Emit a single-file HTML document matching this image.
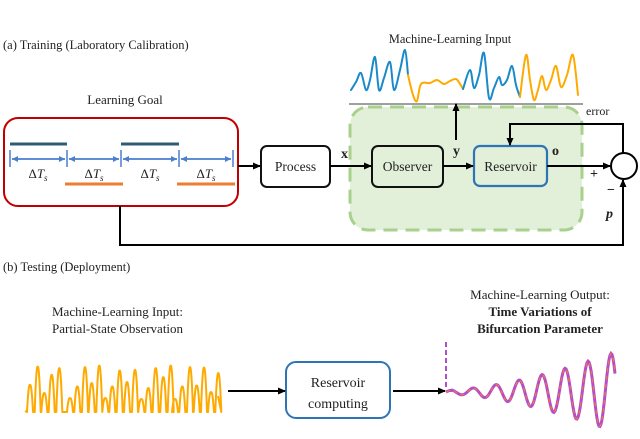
<!DOCTYPE html>
<html><head><meta charset="utf-8"><style>
html,body{margin:0;padding:0;background:#fff}
svg{display:block}
text{font-family:"Liberation Serif",serif;fill:#222}
</style></head><body>
<svg id="s" width="640" height="439" viewBox="0 0 640 439" xmlns="http://www.w3.org/2000/svg">
<defs>
<marker id="a" markerWidth="8" markerHeight="8" refX="7" refY="4" orient="auto" markerUnits="userSpaceOnUse"><path d="M0,0.5 L8,4 L0,7.5 z" fill="#000"/></marker>
<marker id="b" markerWidth="6" markerHeight="6" refX="6" refY="3" orient="auto" markerUnits="userSpaceOnUse"><path d="M0,0 L6,3 L0,6 z" fill="#4a7fd0"/></marker>
</defs>
<text x="3" y="49" font-size="12.5">(a) Training (Laboratory Calibration)</text>
<text x="125" y="104" font-size="13" text-anchor="middle">Learning Goal</text>
<rect x="4" y="118" width="234" height="88" rx="14" fill="none" stroke="#c00000" stroke-width="2"/>
<g stroke="#2e5d73" stroke-width="3"><line x1="10" y1="144" x2="67" y2="144"/><line x1="121" y1="144" x2="179" y2="144"/></g>
<g stroke="#ed7d31" stroke-width="3"><line x1="65" y1="184" x2="123" y2="184"/><line x1="177" y1="184" x2="235" y2="184"/></g>
<g stroke="#4a7fd0" stroke-width="1.5">
<line x1="10" y1="150" x2="10" y2="167"/><line x1="67" y1="150" x2="67" y2="167"/><line x1="121" y1="150" x2="121" y2="167"/><line x1="179" y1="150" x2="179" y2="167"/><line x1="233" y1="150" x2="233" y2="167"/>
<line x1="12" y1="159" x2="65" y2="159" marker-end="url(#b)"/><line x1="65" y1="159" x2="12" y2="159" marker-end="url(#b)"/>
<line x1="69" y1="159" x2="119" y2="159" marker-end="url(#b)"/><line x1="119" y1="159" x2="69" y2="159" marker-end="url(#b)"/>
<line x1="123" y1="159" x2="177" y2="159" marker-end="url(#b)"/><line x1="177" y1="159" x2="123" y2="159" marker-end="url(#b)"/>
<line x1="181" y1="159" x2="231" y2="159" marker-end="url(#b)"/><line x1="231" y1="159" x2="181" y2="159" marker-end="url(#b)"/>
</g>
<g font-size="13" text-anchor="middle"><text x="38" y="178">Δ<tspan font-style="italic">T<tspan font-size="9" dy="3">s</tspan></tspan></text><text x="94" y="178">Δ<tspan font-style="italic">T<tspan font-size="9" dy="3">s</tspan></tspan></text><text x="150" y="178">Δ<tspan font-style="italic">T<tspan font-size="9" dy="3">s</tspan></tspan></text><text x="206" y="178">Δ<tspan font-style="italic">T<tspan font-size="9" dy="3">s</tspan></tspan></text></g>
<rect x="350" y="107" width="232" height="123" rx="18" fill="#e2efd9" stroke="#a9d18e" stroke-width="3" stroke-dasharray="14,8"/>
<text x="450" y="43" font-size="12.5" text-anchor="middle">Machine-Learning Input</text>
<g fill="none" stroke-width="2" stroke-linejoin="round" stroke-linecap="round">
<path id="w1" stroke="#1a8ac8"/><path id="w2" stroke="#ffaa00"/><path id="w3" stroke="#1a8ac8"/><path id="w4" stroke="#ffaa00"/>
</g>
<line x1="349" y1="104" x2="583" y2="104" stroke="#666" stroke-width="1.2"/>
<text x="586" y="115" font-size="12">error</text>
<rect x="261" y="146" width="69" height="41" rx="6" fill="#fff" stroke="#111" stroke-width="2"/>
<text x="295.5" y="171" font-size="13.5" text-anchor="middle">Process</text>
<rect x="372" y="146" width="71" height="41" rx="6" fill="none" stroke="#111" stroke-width="2"/>
<text x="407.5" y="171" font-size="13.5" text-anchor="middle">Observer</text>
<rect x="474" y="146" width="73" height="40" rx="6" fill="none" stroke="#2e75b6" stroke-width="2.2"/>
<text x="510.5" y="171" font-size="13.5" text-anchor="middle">Reservoir</text>
<g stroke="#000" stroke-width="2" fill="none">
<line x1="238" y1="166" x2="260" y2="166" marker-end="url(#a)"/>
<line x1="330" y1="166" x2="371" y2="166" marker-end="url(#a)"/>
<line x1="443" y1="166" x2="473" y2="166" marker-end="url(#a)"/>
<line x1="456" y1="140" x2="456" y2="104" marker-end="url(#a)"/>
<line x1="547" y1="166" x2="610" y2="166" marker-end="url(#a)"/>
<polyline points="623,153 623,124 510,124 510,145" marker-end="url(#a)"/>
<polyline points="120,206 120,245 623,245 623,180" marker-end="url(#a)"/>
<circle cx="624" cy="166" r="13" fill="#fff"/>
</g>
<g font-weight="bold" font-size="14"><text x="341" y="158">x</text><text x="453" y="155">y</text><text x="552" y="155">o</text><text x="590" y="178">+</text><text x="607" y="194">−</text><text x="606" y="218" font-style="italic">p</text></g>
<text x="3" y="271" font-size="12.5">(b) Testing (Deployment)</text>
<text x="52" y="316" font-size="13">Machine-Learning Input:</text>
<text x="52" y="333" font-size="13">Partial-State Observation</text>
<text x="540" y="299" font-size="13" text-anchor="middle">Machine-Learning Output:</text>
<text x="540" y="316" font-size="13" font-weight="bold" text-anchor="middle">Time Variations of</text>
<text x="540" y="333" font-size="13" font-weight="bold" text-anchor="middle">Bifurcation Parameter</text>
<path id="ow" fill="none" stroke="#ffaa00" stroke-width="2" stroke-linejoin="round"/>
<rect x="286" y="362" width="104" height="56" rx="10" fill="none" stroke="#2e75b6" stroke-width="2"/>
<text x="338" y="387" font-size="14" text-anchor="middle">Reservoir</text>
<text x="338" y="408" font-size="14" text-anchor="middle">computing</text>
<g stroke="#000" stroke-width="2"><line x1="228" y1="391" x2="285" y2="391" marker-end="url(#a)"/><line x1="393" y1="391" x2="445" y2="391" marker-end="url(#a)"/></g>
<line x1="446" y1="342" x2="446" y2="389" stroke="#b050c8" stroke-width="2" stroke-dasharray="5,3"/>
<path id="sw" fill="none" stroke="#b050c8" stroke-width="3"/>
<path id="sw2" fill="none" stroke="#ff7040" stroke-width="1.2" stroke-dasharray="4,4"/>
</svg>
<script>
(function(){
function cr(p){var d="M"+p[0][0]+","+p[0][1];for(var i=0;i<p.length-1;i++){var p0=p[i-1]||p[i],p1=p[i],p2=p[i+1],p3=p[i+2]||p2;d+="C"+(p1[0]+(p2[0]-p0[0])/6).toFixed(1)+","+(p1[1]+(p2[1]-p0[1])/6).toFixed(1)+" "+(p2[0]-(p3[0]-p1[0])/6).toFixed(1)+","+(p2[1]-(p3[1]-p1[1])/6).toFixed(1)+" "+p2[0]+","+p2[1];}return d;}
function P(s){return s.split(" ").map(function(a){return a.split(",").map(Number);});}
document.getElementById("w1").setAttribute("d",cr(P("351,90 356,82 361,73 366,90 370,80 375,57 379,90 384,78 390,62 394,90 400,70 405,50 408,75")));
document.getElementById("w2").setAttribute("d",cr(P("408,75 413,95 417,101 421,84 430,83 437,80 444,84 450,81 456,79 460,84 463,89")));
document.getElementById("w3").setAttribute("d",cr(P("463,89 470,70 474,88 479,75 484,53 489,98 494,88 499,77 502,85 507,80 512,66 516,85 520,97")));
document.getElementById("w4").setAttribute("d",cr(P("520,97 526,55 530,80 534,100 538,90 542,76 546,90 551,80 556,66 561,87 567,75 573,55 578,95")));
var pk=[[30,135],[53,80],[73,160],[95,105],[118,85],[150,175],[172,140],[195,82],[215,130],[238,77],[256,175],[277,140],[299,92],[321,127],[345,90],[364,178],[385,145],[407,85],[430,112],[452,77],[465,178],[487,140],[510,82],[530,137],[552,83],[573,157],[595,100]];
var base=412,d="M25,411";
pk.forEach(function(q){var x=20+q[0]/3,y=340+q[1]/3;d+="L"+(x-3).toFixed(1)+","+base+"Q"+(x-1.5).toFixed(1)+","+(y-2).toFixed(1)+" "+x.toFixed(1)+","+y.toFixed(1)+"Q"+(x+1.5).toFixed(1)+","+(y-2).toFixed(1)+" "+(x+3).toFixed(1)+","+base;});
d+="L218,396";
document.getElementById("ow").setAttribute("d",d);
var s="";for(var x=446;x<=615;x++){var t=(x-446)/169;var amp=2+38*Math.pow(t,1.6);var y=392-amp*Math.sin(2*Math.PI*(x-467.25)/23);if(x<452)y=392-1.5*Math.sin((x-446)/3);s+=(x>446?"L":"M")+x+","+y.toFixed(1);}
document.getElementById("sw").setAttribute("d",s);document.getElementById("sw2").setAttribute("d",s);
})();
</script>
</body></html>
